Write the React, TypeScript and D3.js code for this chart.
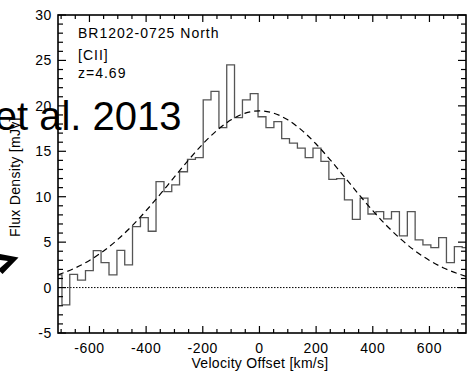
import React from "react";
import * as d3 from "d3";

// Bin-centre velocities (km/s) of the [CII] spectrum
const velocities = [
  -711, -683, -656, -628, -600, -573, -545, -517, -489, -462, -434, -406, -379,
  -351, -323, -296, -268, -240, -212, -185, -157, -129, -102, -74, -46, -19, 9,
  37, 65, 92, 120, 148, 175, 203, 231, 259, 286, 314, 342, 369, 397, 425, 452,
  480, 508, 536, 563, 591, 619, 646, 674, 702, 729,
];
// Flux density (mJy) per bin
const flux = [
  1.4, -1.9, 1.45, 0.83, 1.86, 4.07, 2.75, 1.4, 4.1, 2.5, 6.7, 7.7, 6.2, 11.65,
  10.55, 11.3, 12.75, 14.1, 14.3, 20.65, 21.6, 17.6, 24.5, 18.7, 20.65, 21.35,
  18.8, 17.6, 18.27, 16.4, 15.9, 15.35, 14.3, 15.35, 13.9, 11.9, 12.0, 9.65, 7.5,
  9.85, 8.1, 8.35, 7.55, 8.35, 5.7, 8.35, 5.25, 4.7, 4.4, 5.5, 2.75, 4.5, 4.4,
];
// Dashed model curve
const fitVelocities = [
  -711, -650, -600, -550, -500, -450, -400, -350, -300, -250, -200, -150, -100,
  -50, 0, 50, 100, 150, 200, 250, 300, 350, 400, 450, 500, 550, 600, 650, 729,
];
const fitFlux = [
  1.4, 2.16, 2.99, 4.03, 5.3, 6.78, 8.46, 10.28, 12.18, 14.05, 15.8, 17.3, 18.46,
  19.2, 19.45, 19.2, 18.46, 17.3, 15.8, 14.05, 12.18, 10.28, 8.46, 6.78, 5.3,
  4.03, 2.99, 2.16, 1.24,
];
const xMajorTicks = [-600, -400, -200, 0, 200, 400, 600];
const yMajorTicks = [-5, 0, 5, 10, 15, 20, 25, 30];
const annotations = ["BR1202-0725 North", "[CII]", "z=4.69"];
const xTitle = "Velocity Offset [km/s]";
const yTitle = "Flux Density [mJy]";
const overlayText = "et al. 2013";

const FONT = "'Liberation Sans', Arial, Helvetica, sans-serif";

export default function App() {
  const W = 471;
  const H = 376;
  const L = 58, R = 466, T = 15, B = 333;
  const x = d3.scaleLinear().domain([-711, 729]).range([L, R]);
  const y = d3.scaleLinear().domain([-5, 30]).range([B, T]);
  const xMinor = d3.range(-700, 701, 50);
  const yMinor = d3.range(-5, 31, 1);

  const step = d3
    .line<number>()
    .x((_, i) => x(velocities[i]))
    .y((d) => y(d))
    .curve(d3.curveStep);
  const fit = d3
    .line<number>()
    .x((_, i) => x(fitVelocities[i]))
    .y((d) => y(d))
    .curve(d3.curveMonotoneX);

  const annY = [38, 60, 78];

  return (
    <svg
      width={W}
      height={H}
      style={{ position: "fixed", left: 0, top: 0, background: "#fff" }}
      fontFamily={FONT}
    >
      <rect x={0} y={0} width={W} height={H} fill="#fff" />
      <defs>
        <clipPath id="plot">
          <rect x={L} y={T} width={R - L} height={B - T} />
        </clipPath>
      </defs>

      {/* zero line */}
      <line
        x1={L}
        x2={R}
        y1={y(0)}
        y2={y(0)}
        stroke="#000"
        strokeWidth={1}
        strokeDasharray="1.5 1.5"
      />

      <g clipPath="url(#plot)">
        <path d={step(flux) || ""} fill="none" stroke="#555" strokeWidth={1.3} />
        <path
          d={fit(fitFlux) || ""}
          fill="none"
          stroke="#000"
          strokeWidth={1.2}
          strokeDasharray="6 4"
        />
      </g>

      {/* ticks */}
      <g stroke="#000" strokeWidth={1.2}>
        {xMinor.map((v) => {
          const major = v % 200 === 0;
          const len = major ? 7 : 4;
          return (
            <g key={"x" + v}>
              <line x1={x(v)} x2={x(v)} y1={B} y2={B - len} />
              <line x1={x(v)} x2={x(v)} y1={T} y2={T + len} />
            </g>
          );
        })}
        {yMinor.map((v) => {
          const major = v % 5 === 0;
          const len = major ? 8 : 5;
          return (
            <g key={"y" + v}>
              <line x1={L} x2={L + len} y1={y(v)} y2={y(v)} />
              <line x1={R} x2={R - len} y1={y(v)} y2={y(v)} />
            </g>
          );
        })}
      </g>

      {/* frame */}
      <rect x={L} y={T} width={R - L} height={B - T} fill="none" stroke="#000" strokeWidth={1.6} />

      {/* tick labels */}
      <g fontSize={14} fill="#000" letterSpacing={0.6}>
        {xMajorTicks.map((v) => (
          <text key={"xl" + v} x={x(v)} y={353} textAnchor="middle">
            {v}
          </text>
        ))}
        {yMajorTicks.map((v) => (
          <text key={"yl" + v} x={52} y={y(v) + 5} textAnchor="end">
            {v}
          </text>
        ))}
      </g>

      <text x={260} y={368} fontSize={14} textAnchor="middle" letterSpacing={0.3}>
        {xTitle}
      </text>
      <text
        transform="translate(19.5,237) rotate(-90)"
        fontSize={14}
        textAnchor="start"
        letterSpacing={0.3}
      >
        {yTitle}
      </text>

      <g fontSize={14} letterSpacing={1}>
        {annotations.map((t, i) => (
          <text key={t} x={78} y={annY[i]}>
            {t}
          </text>
        ))}
      </g>

      {/* overlay from slide */}
      <text x={181.5} y={130} fontSize={40} textAnchor="end" fill="#000">
        {overlayText}
      </text>
      <path
        d="M0,254 L18.5,257.5 L2.5,274 L0,271.5 L0,268 L8,261 L0,260 Z"
        fill="#000"
      />
    </svg>
  );
}
